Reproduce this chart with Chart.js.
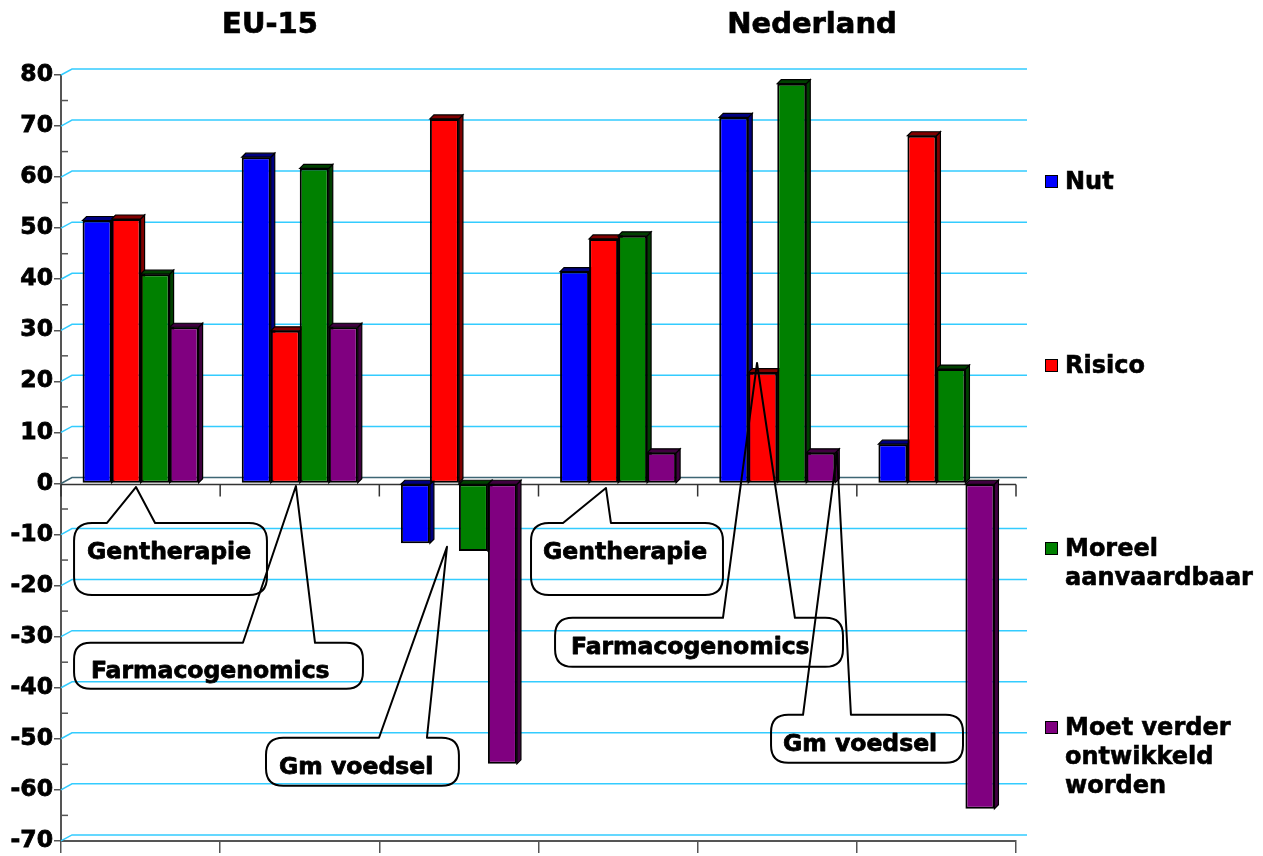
<!DOCTYPE html>
<html>
<head>
<meta charset="utf-8">
<script src="https://cdn.jsdelivr.net/npm/chart.js@4.4.1/dist/chart.umd.min.js"></script>
<style>
html,body{margin:0;padding:0;background:#fff;}
#wrap{position:relative;width:1263px;height:856px;overflow:hidden;font-family:"DejaVu Sans",Verdana,sans-serif;font-weight:bold;color:#000;}
#wrap canvas{position:absolute;left:0;top:0;}
.title{position:absolute;top:1px;font-size:29px;line-height:44px;transform:translateX(-50%);white-space:nowrap;-webkit-text-stroke:0.7px #000;}
.leg{position:absolute;left:1045px;width:218px;font-size:24px;line-height:29px;}
.leg .sw{position:absolute;left:0;top:8px;width:11px;height:11px;border:1px solid #000;}
.leg .tx{position:absolute;left:20px;top:0;width:196px;-webkit-text-stroke:0.6px #000;}
</style>
</head>
<body>
<div id="wrap">
<canvas id="c" width="1263" height="856"></canvas>
</div>
<script>
// ---- data ----
const regions = ['EU-15', 'Nederland'];
const categories = ['Gentherapie', 'Farmacogenomics', 'Gm voedsel', 'Gentherapie', 'Farmacogenomics', 'Gm voedsel'];
const seriesNames = ['Nut', 'Risico', 'Moreel aanvaardbaar', 'Moet verder ontwikkeld worden'];
const nut    = [51.5, 63.9, -11.7, 41.5, 71.7, 7.7];
const risico = [51.8, 29.9, 71.4, 47.9, 21.7, 68.1];
const moreel = [41.0, 61.7, -13.2, 48.5, 78.3, 22.4];
const moet   = [30.6, 30.6, -54.9, 6.0, 6.0, -63.7];
const yMin = -70, yMax = 80, yStep = 10;

// ---- styles ----
const frontColors = ['#0000ff', '#ff0000', '#008000', '#800080'];
const sideColors  = ['#000080', '#800000', '#004000', '#400040'];
const seriesValues = [nut, risico, moreel, moet];
const FONT = "'DejaVu Sans', Verdana, sans-serif";

// callout annotations: x in category units, y in value units
const callouts = [
  {text: categories[0], L: -0.418, R: 0.794, T: -7.73, B: -21.83, b1: -0.211, b2: 0.091, tx: -0.029, ty: -0.69, textL: -0.337, textY: -13.2},
  {text: categories[1], L: -0.418, R: 1.397, T: -31.2, B: -40.2, b1: 0.643, b2: 1.096, tx: 0.976, ty: -0.5, textL: -0.312, textY: -36.5},
  {text: categories[2], L: 0.788, R: 2.000, T: -49.8, B: -59.2, b1: 1.498, b2: 1.799, tx: 1.925, ty: -12.4, textL: 0.870, textY: -55.3},
  {text: categories[3], L: 2.453, R: 3.659, T: -7.73, B: -21.83, b1: 2.654, b2: 2.955, tx: 2.924, ty: -0.9, textL: 2.528, textY: -13.2},
  {text: categories[4], L: 2.604, R: 4.413, T: -26.3, B: -35.9, b1: 3.659, b2: 4.111, tx: 3.873, ty: 23.6, textL: 2.704, textY: -31.8},
  {text: categories[5], L: 3.961, R: 5.167, T: -45.3, B: -54.7, b1: 4.162, b2: 4.463, tx: 4.375, ty: 6.0, textL: 4.036, textY: -50.7}
];

// ---- html titles & legend ----
const wrap = document.getElementById('wrap');
const titleX = [270, 812];
regions.forEach((r, i) => {
  const d = document.createElement('div');
  d.className = 'title'; d.style.left = titleX[i] + 'px'; d.textContent = r;
  wrap.appendChild(d);
});
const legendTops = [167, 351, 534, 713];
seriesNames.forEach((n, i) => {
  const d = document.createElement('div');
  d.className = 'leg'; d.style.top = legendTops[i] + 'px';
  const s = document.createElement('div'); s.className = 'sw'; s.style.background = frontColors[i];
  const t = document.createElement('div'); t.className = 'tx'; t.textContent = n;
  d.appendChild(s); d.appendChild(t); wrap.appendChild(d);
});

// ---- plugins ----
const DX = 11, DY = 6, BD = 4;
const backWall = {
  id: 'backWall',
  beforeDatasetsDraw(chart) {
    const {ctx, chartArea: ca, scales: {x, y}} = chart;
    ctx.save();
    ctx.lineWidth = 1.5;
    for (let v = yMin; v <= yMax; v += yStep) {
      const py = y.getPixelForValue(v);
      ctx.strokeStyle = v === 0 ? '#3d6674' : '#33ccff';
      ctx.beginPath();
      ctx.moveTo(ca.left, py);
      ctx.lineTo(ca.left + DX, py - DY);
      ctx.lineTo(ca.right + DX, py - DY);
      ctx.stroke();
    }
    // minor ticks
    ctx.strokeStyle = '#555';
    ctx.lineWidth = 1.5;
    for (let v = yMin + yStep / 2; v < yMax; v += yStep) {
      const py = y.getPixelForValue(v);
      ctx.beginPath(); ctx.moveTo(ca.left, py); ctx.lineTo(ca.left + 7, py); ctx.stroke();
    }
    // front zero line with category ticks
    const y0 = y.getPixelForValue(0) + 1;
    const w = x.getPixelForValue(1) - x.getPixelForValue(0);
    const xb = x.getPixelForValue(0) - w / 2;
    ctx.strokeStyle = '#333';
    ctx.lineWidth = 1.5;
    ctx.beginPath(); ctx.moveTo(ca.left, y0); ctx.lineTo(ca.right, y0); ctx.stroke();
    for (let i = 0; i <= categories.length; i++) {
      ctx.beginPath(); ctx.moveTo(xb + i * w, y0); ctx.lineTo(xb + i * w, y0 + 12); ctx.stroke();
    }
    // 3D sides and tops of bars
    ctx.lineWidth = 1.2;
    ctx.strokeStyle = '#000';
    chart.data.datasets.forEach((ds, di) => {
      const meta = chart.getDatasetMeta(di);
      meta.data.forEach(el => {
        const p = el.getProps(['x', 'y', 'base', 'width'], true);
        const l = p.x - p.width / 2, r = p.x + p.width / 2;
        const t = Math.min(p.y, p.base), b = Math.max(p.y, p.base);
        ctx.fillStyle = sideColors[di];
        ctx.beginPath();
        ctx.moveTo(r, t); ctx.lineTo(r + BD, t - BD); ctx.lineTo(r + BD, b - BD); ctx.lineTo(r, b); ctx.closePath();
        ctx.fill(); ctx.stroke();
        ctx.beginPath();
        ctx.moveTo(l, t); ctx.lineTo(l + BD, t - BD); ctx.lineTo(r + BD, t - BD); ctx.lineTo(r, t); ctx.closePath();
        ctx.fill(); ctx.stroke();
      });
    });
    ctx.restore();
  }
};

const calloutPlugin = {
  id: 'callouts',
  afterDatasetsDraw(chart) {
    const {ctx, scales: {x, y}} = chart;
    const w = x.getPixelForValue(1) - x.getPixelForValue(0);
    const x0 = x.getPixelForValue(0);
    const px = c => x0 + c * w;
    const py = v => y.getPixelForValue(v);
    ctx.save();
    ctx.lineJoin = 'round';
    callouts.forEach(c => {
      const L = px(c.L), R = px(c.R), T = py(c.T), B = py(c.B);
      const r = Math.min(18, (B - T) * 0.36);
      ctx.strokeStyle = '#000';
      ctx.lineWidth = 2;
      ctx.beginPath();
      ctx.moveTo(px(c.b1), T);
      ctx.lineTo(L + r, T);
      ctx.quadraticCurveTo(L, T, L, T + r);
      ctx.lineTo(L, B - r);
      ctx.quadraticCurveTo(L, B, L + r, B);
      ctx.lineTo(R - r, B);
      ctx.quadraticCurveTo(R, B, R, B - r);
      ctx.lineTo(R, T + r);
      ctx.quadraticCurveTo(R, T, R - r, T);
      ctx.lineTo(px(c.b2), T);
      ctx.lineTo(px(c.tx), py(c.ty));
      ctx.closePath();
      ctx.stroke();
      ctx.fillStyle = '#000';
      ctx.font = 'bold 23.5px ' + FONT;
      ctx.textAlign = 'left';
      ctx.textBaseline = 'alphabetic';
      const tx = px(c.textL), ty = py(c.textY) + 8.5;
      ctx.lineWidth = 0.8;
      ctx.strokeText(c.text, tx, ty);
      ctx.fillText(c.text, tx, ty);
    });
    ctx.restore();
  }
};

// ---- chart ----
Chart.defaults.font.family = FONT;
new Chart(document.getElementById('c'), {
  type: 'bar',
  data: {
    labels: categories,
    datasets: seriesNames.map((n, i) => ({
      label: n,
      data: seriesValues[i],
      backgroundColor: frontColors[i],
      borderColor: '#000',
      borderWidth: 2,
      borderSkipped: false,
      categoryPercentage: 0.729,
      barPercentage: 1.0
    }))
  },
  options: {
    responsive: false,
    animation: false,
    devicePixelRatio: 1,
    layout: {padding: {top: 75, right: 247, bottom: 0, left: 0}},
    plugins: {legend: {display: false}, tooltip: {enabled: false}, title: {display: false}},
    scales: {
      x: {
        grid: {display: true, drawOnChartArea: false, offset: true, tickLength: 12, color: '#555', lineWidth: 1.5},
        border: {display: true, color: '#555', width: 2},
        ticks: {display: false},
        afterFit(s) { s.height = 15; }
      },
      y: {
        min: yMin, max: yMax,
        ticks: {stepSize: yStep, color: '#000', padding: 1, textStrokeColor: '#000', textStrokeWidth: 0.8,
                font: {family: FONT, weight: 'bold', size: 23.5}},
        grid: {display: true, drawOnChartArea: false, tickLength: 7, color: '#555', lineWidth: 1.5},
        border: {display: true, color: '#555', width: 2},
        afterFit(s) { s.width = 61; }
      }
    }
  },
  plugins: [backWall, calloutPlugin]
});
</script>
</body>
</html>
